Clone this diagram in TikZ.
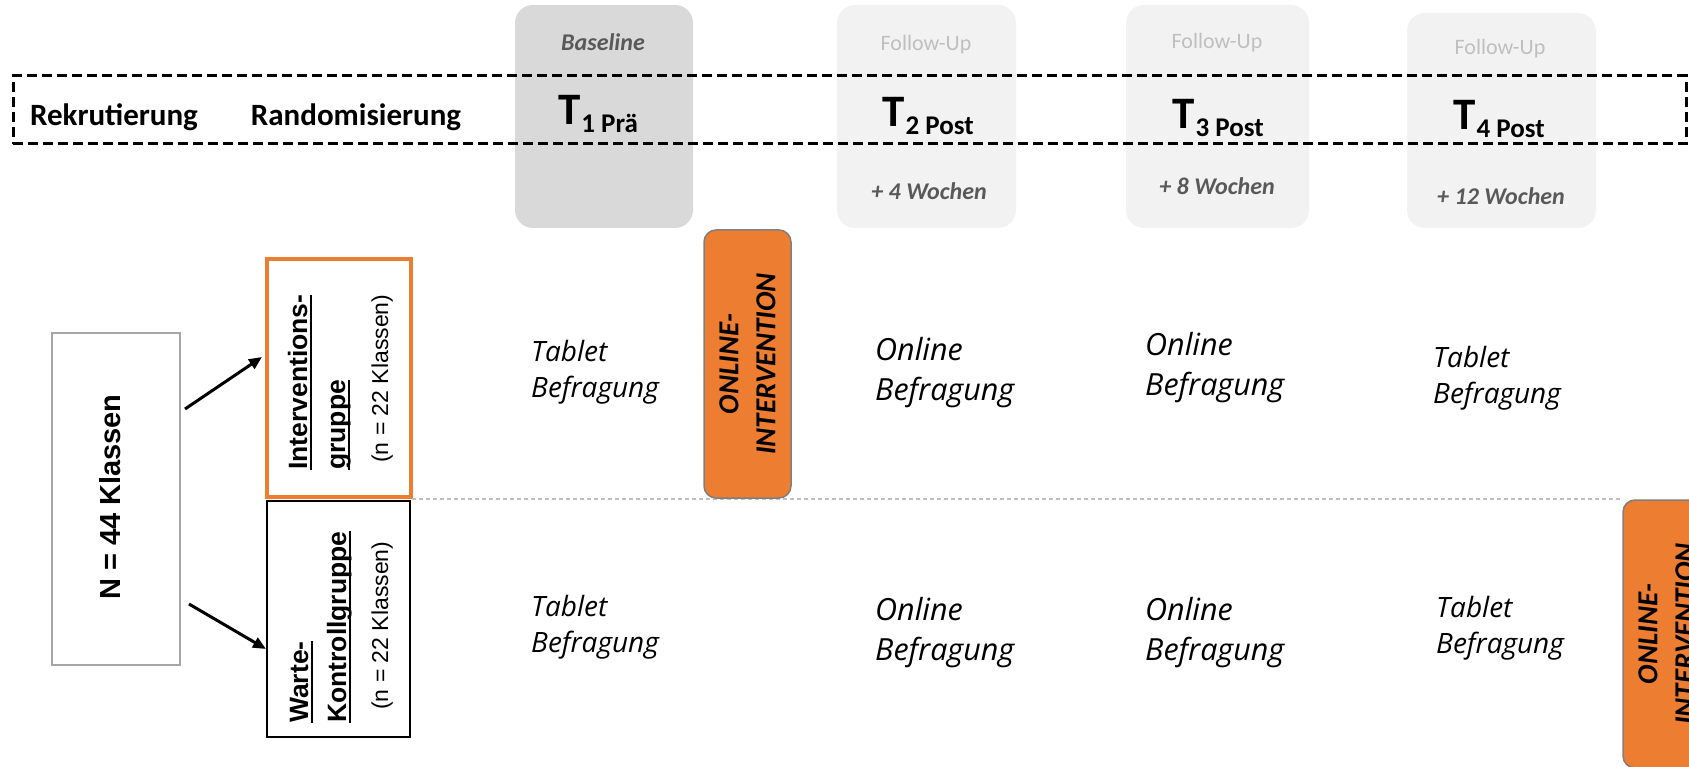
\documentclass[tikz,border=0pt]{standalone}
\usepackage{fontspec}
\setmainfont{Carlito}
\newfontfamily\arialf{Liberation Sans}
\newfontfamily\segf{Open Sans}
\usetikzlibrary{arrows.meta}
\definecolor{orng}{HTML}{ED7D31}
\definecolor{bgdark}{HTML}{D9D9D9}
\definecolor{bglight}{HTML}{F2F2F2}
\definecolor{txtgray}{HTML}{595959}
\definecolor{fugray}{HTML}{BFBFBF}
\definecolor{boxgray}{HTML}{A6A6A6}
\definecolor{sepgray}{HTML}{BFBFBF}
\definecolor{bordgray}{HTML}{7F7F7F}
\newcommand\myul[1]{\setbox0\hbox{#1}\rlap{\rule[-0.2em]{\wd0}{0.07em}}\box0}
\newcommand\Tmark[2]{{\fontsize{45}{45}\selectfont T}\hspace{1pt}\raisebox{-8pt}{\fontsize{27}{27}\selectfont #1 #2}}
\begin{document}
\begin{tikzpicture}[x=1pt,y=-1pt,
  hdrbox/.style={rounded corners=18pt, inner sep=0pt, outer sep=0pt, draw=none},
  fulab/.style={anchor=base, inner sep=0pt, text=fugray, font=\fontsize{22}{22}\selectfont},
  wolab/.style={anchor=base, inner sep=0pt, text=txtgray, font=\bfseries\itshape\fontsize{24}{24}\selectfont},
  tlab/.style={anchor=base, inner sep=0pt, font=\bfseries},
  phlab/.style={anchor=base, inner sep=0pt, font=\bfseries\fontsize{31}{31}\selectfont},
  befr/.style={anchor=base west, align=left, inner sep=0pt, font=\segf\itshape\fontsize{28}{36}\selectfont},
  onl/.style={anchor=base west, align=left, inner sep=0pt, font=\segf\itshape\fontsize{30.5}{40}\selectfont},
  ivbox/.style={rounded corners=12pt, fill=orng, draw=bordgray, line width=1.5pt, rotate=90,
    minimum width=268pt, minimum height=87pt, inner sep=0pt, align=center,
    font=\bfseries\itshape\fontsize{29}{37}\selectfont},
  grplab/.style={rotate=90, anchor=base west, inner sep=0pt, font=\arialf\bfseries\fontsize{26.5}{26.5}\selectfont},
  nlabbig/.style={rotate=90, anchor=base west, inner sep=0pt, font=\arialf\bfseries\fontsize{29}{29}\selectfont},
  nlab/.style={rotate=90, anchor=base west, inner sep=0pt, font=\arialf\fontsize{23}{23}\selectfont},
  arr/.style={line width=3pt, -{Triangle[length=13pt,width=11pt]}}
]
\path[use as bounding box] (0,0) rectangle (1689,767);
\clip (0,0) rectangle (1689,767);

% header boxes
\node[hdrbox, fill=bgdark, minimum width=178pt, minimum height=223pt] (hb1) at (604,116.5) {};
\node[hdrbox, fill=bglight, minimum width=179pt, minimum height=223pt] (hb2) at (926.5,116.5) {};
\node[hdrbox, fill=bglight, minimum width=183pt, minimum height=223pt] (hb3) at (1217.5,116.5) {};
\node[hdrbox, fill=bglight, minimum width=189pt, minimum height=215pt] (hb4) at (1501.5,120.5) {};

% dashed phase frame
\node[draw, line width=3pt, dash pattern=on 10pt off 5pt, inner sep=0pt,
  minimum width=1673pt, minimum height=68pt] (phase) at (849.5,110) {};

\node[anchor=base, inner sep=0pt, text=txtgray, font=\bfseries\itshape\fontsize{24}{24}\selectfont] (bltxt) at (603,51) {Baseline};
\node[fulab] (fu1) at (926,51) {Follow-Up};
\node[fulab] (fu2) at (1217,49) {Follow-Up};
\node[fulab] (fu3) at (1500,55) {Follow-Up};

\node[phlab] (rek) at (114,126) {Rekrutierung};
\node[phlab] (rand) at (356,126) {Randomisierung};

\node[tlab] (t1) at (598,125) {\Tmark{1}{Prä}};
\node[tlab] (t2) at (928,127) {\Tmark{2}{Post}};
\node[tlab] (t3) at (1218,129) {\Tmark{3}{Post}};
\node[tlab] (t4) at (1499,130) {\Tmark{4}{Post}};

\node[wolab] (w1) at (929,200) {+ 4 Wochen};
\node[wolab] (w2) at (1217,195) {+ 8 Wochen};
\node[wolab] (w3) at (1501,205) {+ 12 Wochen};

% left boxes
\node[draw=boxgray, line width=2pt, minimum width=128pt, minimum height=332pt, inner sep=0pt] (nb) at (116,499) {};
\node[nlabbig] (nlabel) at (120,600) {N = 44 Klassen};

\node[draw=orng, line width=4pt, minimum width=144pt, minimum height=238pt, inner sep=0pt] (ig) at (339,378) {};
\node[grplab] (ig1) at (307,470) {\myul{Interventions-}};
\node[grplab] (ig2) at (345,470) {\myul{gruppe}};
\node[nlab] (ign) at (388,463) {(n = 22 Klassen)};

\node[draw=black, line width=2pt, minimum width=143pt, minimum height=236pt, inner sep=0pt] (wg) at (338.5,619) {};
\node[grplab] (wg1) at (308,723) {\myul{Warte-}};
\node[grplab] (wg2) at (346,723) {\myul{Kontrollgruppe}};
\node[nlab] (wgn) at (388,710) {(n = 22 Klassen)};

\draw[arr] ([shift={(4,-90)}]nb.east) -- ([shift={(-3,-21)}]ig.west);
\draw[arr] ([shift={(8,105)}]nb.east) -- ([shift={(0,30)}]wg.west);

% separator
\draw[sepgray, line width=1.5pt, dash pattern=on 4pt off 3pt] (412,499) -- (1623,499);

% interventions
\node[ivbox] (iv1) at (747.5,364) {ONLINE-\\INTERVENTION};
\node[ivbox] (iv2) at (1666.5,634) {ONLINE-\\INTERVENTION};

% survey labels row 1 (anchor = baseline of the last line)
\node[befr] (r1c1) at (531,397) {Tablet\\Befragung};
\node[onl] (r1c2) at (875,400) {Online\\Befragung};
\node[onl] (r1c3) at (1145,395) {Online\\Befragung};
\node[befr] (r1c4) at (1433,403) {Tablet\\Befragung};
% row 2
\node[befr] (r2c1) at (531,652) {Tablet\\Befragung};
\node[onl] (r2c2) at (875,660) {Online\\Befragung};
\node[onl] (r2c3) at (1145,660) {Online\\Befragung};
\node[befr] (r2c4) at (1436,653) {Tablet\\Befragung};
\end{tikzpicture}
\end{document}
